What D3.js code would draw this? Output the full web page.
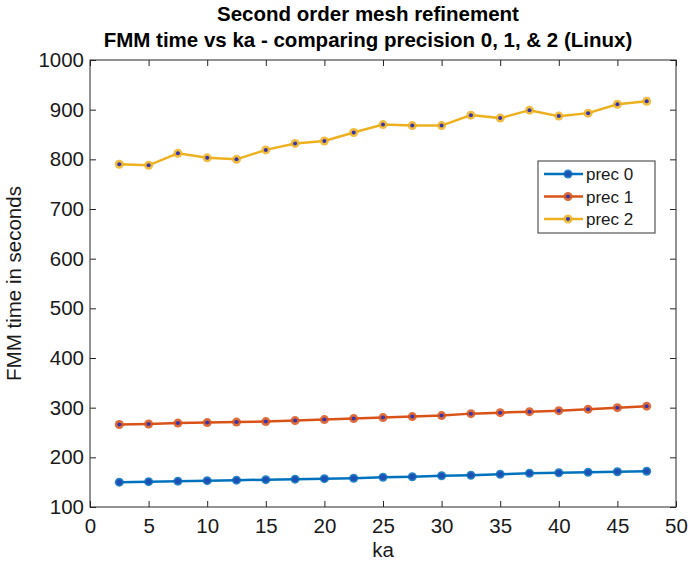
<!DOCTYPE html>
<html><head><meta charset="utf-8">
<script src="https://cdn.jsdelivr.net/npm/d3@7"></script>
<style>body{margin:0;background:#fff;} svg{display:block;font-family:"Liberation Sans",Arial,sans-serif;}</style>
</head><body>
<svg id="c" width="690" height="566"></svg>
<script>
const ka = [2.5,5,7.5,10,12.5,15,17.5,20,22.5,25,27.5,30,32.5,35,37.5,40,42.5,45,47.5];
const prec0 = [150,151,152,153,154,155,156,157,158,160,161,163,164,166,168,169,170,171,172];
const prec1 = [266,267,269,270,271,272,274,276,278,280,282,284,288,290,292,294,297,300,303];
const prec2 = [790,788,812,803,800,819,832,837,854,870,868,868,889,883,899,887,893,911,917];
const seriesNames = ["prec 0","prec 1","prec 2"];
const colors = ["#0072BD","#D95319","#EDB120"];
const xTicks = [0,5,10,15,20,25,30,35,40,45,50];
const yTicks = [100,200,300,400,500,600,700,800,900,1000];

const svg = d3.select("#c");
const L=90,R=676,T=60,B=507;
const x = d3.scaleLinear().domain([0,50]).range([L,R]);
const y = d3.scaleLinear().domain([100,1000]).range([B,T]);
const axisColor="#262626";
const FS = 20.5;

// titles
svg.append("text").attr("x",368).attr("y",21).attr("text-anchor","middle")
  .attr("font-size",20.5).attr("font-weight","bold").attr("fill","#000").text("Second order mesh refinement");
svg.append("text").attr("x",368).attr("y",47).attr("text-anchor","middle")
  .attr("font-size",20.5).attr("font-weight","bold").attr("fill","#000").text("FMM time vs ka - comparing precision 0, 1, & 2 (Linux)");

// box
svg.append("rect").attr("x",L).attr("y",T).attr("width",R-L).attr("height",B-T)
  .attr("fill","none").attr("stroke",axisColor).attr("stroke-width",1);

// axes with inward ticks
const gx = svg.append("g").attr("transform",`translate(0,${B})`)
  .call(d3.axisBottom(x).tickValues(xTicks).tickSize(-6).tickPadding(9).tickFormat(d3.format("d")));
const gxt = svg.append("g").attr("transform",`translate(0,${T})`)
  .call(d3.axisTop(x).tickValues(xTicks).tickSize(-6).tickFormat(""));
const gy = svg.append("g").attr("transform",`translate(${L},0)`)
  .call(d3.axisLeft(y).tickValues(yTicks).tickSize(-6).tickPadding(6).tickFormat(d3.format("d")));
const gyr = svg.append("g").attr("transform",`translate(${R},0)`)
  .call(d3.axisRight(y).tickValues(yTicks).tickSize(-6).tickFormat(""));
[gx,gxt,gy,gyr].forEach(g=>{
  g.select(".domain").remove();
  g.selectAll(".tick line").attr("stroke",axisColor);
  g.selectAll("text").attr("font-size",FS).attr("fill","#1a1a1a").attr("font-family","Liberation Sans, Arial, sans-serif");
});
gx.selectAll("text").attr("dy","0.85em");

// axis labels
svg.append("text").attr("x",(L+R)/2).attr("y",557).attr("text-anchor","middle")
  .attr("font-size",FS).attr("fill","#1a1a1a").text("ka");
svg.append("text").attr("transform",`translate(21,${(T+B)/2}) rotate(-90)`).attr("text-anchor","middle")
  .attr("font-size",FS).attr("fill","#1a1a1a").text("FMM time in seconds");

// series
const data = [prec0,prec1,prec2];
const line = d3.line().x((d,i)=>x(ka[i])).y(d=>y(d));
data.forEach((vals,si)=>{
  const g = svg.append("g");
  g.append("path").datum(vals).attr("d",line).attr("fill","none")
    .attr("stroke",colors[si]).attr("stroke-width",2.5);
  g.selectAll("circle.o").data(vals).enter().append("circle")
    .attr("cx",(d,i)=>x(ka[i])).attr("cy",d=>y(d)).attr("r",4.5)
    .attr("fill",colors[si]).attr("opacity",0.85);
  g.selectAll("circle.i").data(vals).enter().append("circle")
    .attr("cx",(d,i)=>x(ka[i])).attr("cy",d=>y(d)).attr("r",si===0?3:2)
    .attr("fill",si===0?"#1f4fb5":"#3535b0");
});

// legend
const lg = svg.append("g").attr("transform","translate(538,161)");
lg.append("rect").attr("width",117).attr("height",72).attr("fill","#fff")
  .attr("stroke","#555").attr("stroke-width",1.2);
seriesNames.forEach((n,i)=>{
  const yy = 13 + i*22.5;
  lg.append("line").attr("x1",6).attr("x2",45).attr("y1",yy).attr("y2",yy)
    .attr("stroke",colors[i]).attr("stroke-width",2.5);
  lg.append("circle").attr("cx",30).attr("cy",yy).attr("r",4.5).attr("fill",colors[i]).attr("opacity",0.85);
  lg.append("circle").attr("cx",30).attr("cy",yy).attr("r",i===0?3:2).attr("fill",i===0?"#1f4fb5":"#3535b0");
  lg.append("text").attr("x",48).attr("y",yy+6).attr("font-size",17).attr("fill","#1a1a1a").text(n);
});
</script>
</body></html>
